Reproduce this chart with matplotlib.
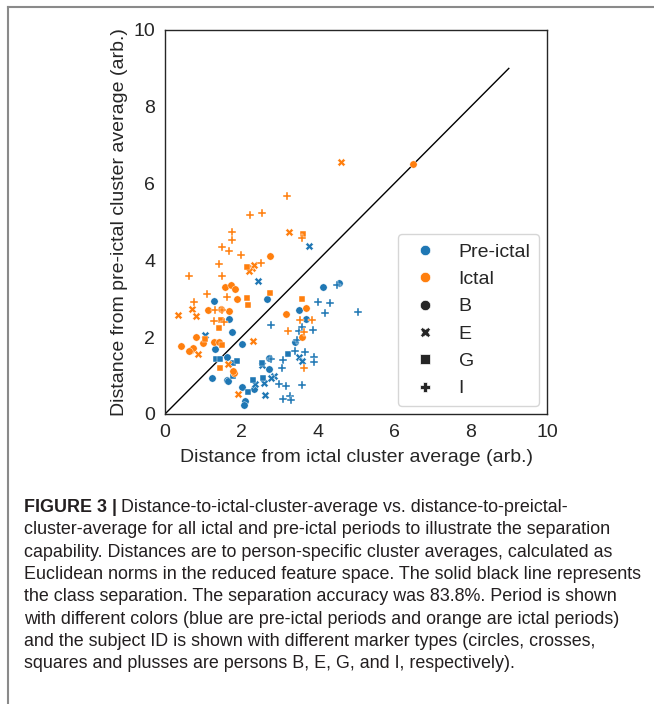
import matplotlib
matplotlib.use('Agg')
import numpy as np
import matplotlib.pyplot as plt
from matplotlib.lines import Line2D

plt.rcParams['font.family'] = ['Liberation Sans', 'DejaVu Sans']

# (x, y) pairs, by period and subject
pre_B = [(4.56, 3.40), (4.14, 3.31), (2.68, 2.99), (1.27, 2.93), (1.68, 2.48),
         (1.75, 2.13), (3.51, 2.70), (3.69, 2.47), (2.02, 1.81), (1.31, 1.69),
         (1.61, 1.49), (2.71, 1.47), (2.71, 1.16), (1.22, 0.93), (1.61, 0.89),
         (1.64, 0.85), (2.02, 0.71), (2.33, 0.65), (2.09, 0.34), (2.06, 0.23),
         (3.40, 1.88)]
pre_E = [(3.76, 4.38), (2.44, 3.46), (1.06, 2.06), (3.51, 1.49), (3.58, 1.38),
         (2.85, 1.00), (2.78, 0.93), (2.58, 0.82), (2.62, 0.49), (2.53, 1.27),
         (2.36, 0.78)]
pre_G = [(1.34, 1.43), (1.44, 1.43), (1.79, 1.32), (1.88, 1.38), (1.79, 1.00),
         (2.16, 0.58), (3.23, 1.56), (2.31, 0.89), (2.56, 0.95), (2.53, 1.33)]
pre_I = [(5.06, 2.65), (4.51, 3.36), (4.00, 2.91), (4.32, 2.88), (4.20, 2.62),
         (2.77, 2.31), (3.52, 2.16), (3.58, 2.27), (3.88, 2.19), (3.45, 1.94),
         (3.40, 1.64), (3.66, 1.61), (3.90, 1.49), (3.90, 1.36), (2.77, 1.42),
         (3.08, 1.41), (3.05, 1.21), (2.99, 0.77), (3.17, 0.73), (3.58, 0.76),
         (3.10, 0.39), (3.27, 0.47), (3.29, 0.36)]

ict_B = [(6.48, 6.50), (2.74, 4.11), (1.57, 3.31), (1.73, 3.36), (1.83, 3.25),
         (1.88, 2.99), (1.13, 2.71), (1.47, 2.73), (1.68, 2.68), (3.18, 2.60),
         (3.68, 2.77), (0.80, 2.01), (0.41, 1.78), (0.67, 1.67), (0.72, 1.73),
         (0.62, 1.64), (1.00, 1.85), (1.29, 1.88), (1.41, 1.88), (3.58, 2.01),
         (1.80, 1.08), (1.77, 1.12)]
ict_E = [(4.60, 6.55), (3.25, 4.74), (0.33, 2.57), (0.70, 2.73), (0.80, 2.55),
         (0.86, 1.57), (2.27, 3.80), (2.33, 3.89), (2.21, 3.72), (2.31, 1.91),
         (1.64, 1.29), (1.92, 0.52)]
ict_G = [(3.61, 4.68), (2.14, 3.83), (2.15, 3.02), (2.16, 2.84), (2.75, 3.16),
         (3.58, 3.00), (1.47, 2.44), (1.41, 2.25), (1.06, 1.95), (1.48, 1.80),
         (1.45, 1.19)]
ict_I = [(2.23, 5.17), (2.54, 5.23), (3.19, 5.69), (1.76, 4.75), (1.75, 4.52),
         (1.50, 4.34), (1.68, 4.24), (1.99, 4.14), (1.41, 3.90), (2.51, 3.93),
         (0.64, 3.60), (1.50, 3.60), (1.10, 3.13), (1.62, 3.04), (0.75, 2.92),
         (1.32, 2.71), (1.50, 2.71), (1.29, 2.41), (1.54, 2.39), (3.59, 4.58),
         (3.23, 2.16), (3.64, 2.14), (3.53, 2.45), (3.84, 2.45), (3.64, 1.19)]

period_labels = ['Pre-ictal', 'Ictal']
subject_labels = ['B', 'E', 'G', 'I']

caption = [
    "Distance-to-ictal-cluster-average vs. distance-to-preictal-",
    "cluster-average for all ictal and pre-ictal periods to illustrate the separation",
    "capability. Distances are to person-specific cluster averages, calculated as",
    "Euclidean norms in the reduced feature space. The solid black line represents",
    "the class separation. The separation accuracy was 83.8%. Period is shown",
    "with different colors (blue are pre-ictal periods and orange are ictal periods)",
    "and the subject ID is shown with different marker types (circles, crosses,",
    "squares and plusses are persons B, E, G, and I, respectively).",
]

colors = ['#1f77b4', '#ff7f0e']
markers = ['o', 'X', 's', 'P']

W, H = 654, 704
fig = plt.figure(figsize=(W / 100, H / 100), dpi=100)
ax = fig.add_axes([165 / W, 1 - 414 / H, 382 / W, 384 / H])

groups = [[pre_B, pre_E, pre_G, pre_I], [ict_B, ict_E, ict_G, ict_I]]
sizes = {'o': 28, 'X': 32, 's': 20, 'P': 32}
for ci, per in enumerate(groups):
    for mi, pts in enumerate(per):
        arr = np.array(pts)
        ax.scatter(arr[:, 0], arr[:, 1], s=sizes[markers[mi]], marker=markers[mi],
                   color=colors[ci], edgecolors='white', linewidths=0.3, zorder=3)

ax.plot([0, 9], [0, 9], color='black', lw=1.0, zorder=2)

ax.set_xlim(0, 10)
ax.set_ylim(0, 10)
ax.set_xticks(range(0, 11, 2))
ax.set_yticks(range(0, 11, 2))
ax.tick_params(length=0, pad=7, labelsize=14, colors='.15')
for sp in ax.spines.values():
    sp.set_color('.15')
    sp.set_linewidth(1.0)
ax.set_xlabel('Distance from ictal cluster average (arb.)', fontsize=14, color='.15', labelpad=6)
ax.set_ylabel('Distance from pre-ictal cluster average (arb.)', fontsize=14, color='.15', labelpad=4)

handles = [Line2D([], [], ls='', marker='o', color=c, markersize=7.5, markeredgecolor='white',
                  markeredgewidth=0.5) for c in colors]
handles += [Line2D([], [], ls='', marker=m, color='.15', markersize=7.5, markeredgecolor='white',
                   markeredgewidth=0.5) for m in markers]
leg = ax.legend(handles, period_labels + subject_labels, loc='lower right', fontsize=14,
                handlelength=1.8, handletextpad=0.85, labelspacing=0.5, borderpad=0.45,
                borderaxespad=0.4, frameon=True)
leg.get_frame().set_edgecolor('0.8')
for t in leg.get_texts():
    t.set_color('.15')

# caption box border
fig.add_artist(Line2D([8 / W, 8 / W], [0, 1 - 7 / H], color='#8a8a8a', lw=1.5))
fig.add_artist(Line2D([8 / W, 1], [1 - 7 / H, 1 - 7 / H], color='#8a8a8a', lw=1.5))

# caption
renderer = fig.canvas.get_renderer()
x0 = 24 / W
y_first = 507.5
step = 22.3
cap_size = 12.9
bold = fig.text(x0, 1 - y_first / H, 'FIGURE 3 |', fontsize=cap_size, fontweight='bold',
                color='#231f20', va='center', ha='left')
bb = bold.get_window_extent(renderer)
fig.text(bb.x1 / W + 4 / W, 1 - y_first / H, caption[0], fontsize=cap_size,
         color='#231f20', va='center', ha='left')
for i, line in enumerate(caption[1:], start=1):
    fig.text(x0, 1 - (y_first + i * step) / H, line, fontsize=cap_size,
             color='#231f20', va='center', ha='left')

fig.savefig('out.png', dpi=100)
